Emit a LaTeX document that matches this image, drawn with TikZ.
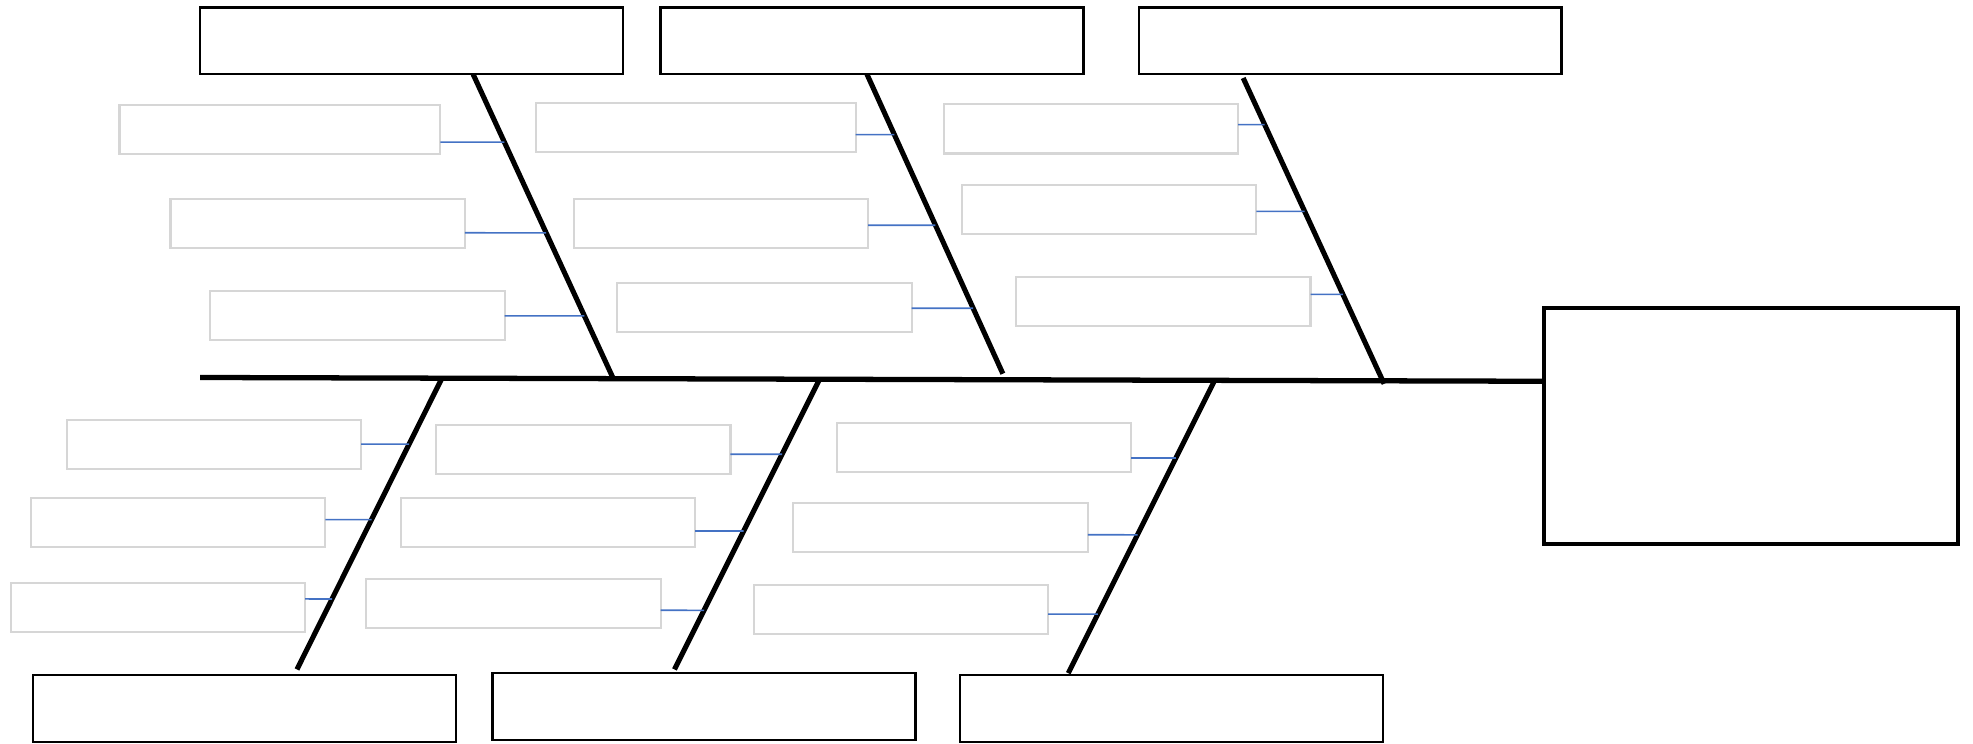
\documentclass[tikz,border=0pt]{standalone}
\usetikzlibrary{calc}
\newlength\pxu
\setlength\pxu{0.12583mm}
\definecolor{boxgray}{RGB}{214,214,214}
\definecolor{twigblue}{RGB}{68,114,196}

\begin{document}
\begin{tikzpicture}[x=\pxu, y=-\pxu,
  cause/.style={draw=black, line width=0.65pt, inner sep=0pt, outer sep=0pt,
    minimum width=336\pxu, minimum height=53\pxu},
  effectbox/.style={draw=black, line width=1.1pt, inner sep=0pt, outer sep=0pt,
    minimum width=329\pxu, minimum height=187\pxu},
  subcause/.style={draw=boxgray, line width=0.6pt, inner sep=0pt, outer sep=0pt,
    minimum width=234\pxu, minimum height=39\pxu},
  bone/.style={line width=1.45pt},
  spine/.style={line width=1.5pt},
  twig/.style={draw=twigblue, line width=0.45pt}]
  \useasboundingbox (0,0) rectangle (1568,591);

  % main categories
  \node[cause] (c1) at (327,32.5) {};
  \node[cause] (c2) at (693,32.5) {};
  \node[cause] (c3) at (1073,32.5) {};
  \node[cause] (c4) at (194.5,563) {};
  \node[cause] (c5) at (559.5,561.5) {};
  \node[cause] (c6) at (931,563) {};
  \node[effectbox] (effect) at (1391.5,338.5) {};

  % spine
  \coordinate (tail) at (159,300);
  \draw[spine] (tail) -- (effect.west |- 0,303);

  % bones
  \coordinate (b1a) at (c1.south -| 376,0);
  \coordinate (b1b) at (487,300);
  \coordinate (b2a) at (c2.south -| 689,0);
  \coordinate (b2b) at (797,297);
  \coordinate (b3a) at (988,62);
  \coordinate (b3b) at (1100,305);
  \coordinate (b4a) at (351,301);
  \coordinate (b4b) at (236,532);
  \coordinate (b5a) at (651,302);
  \coordinate (b5b) at (536,532);
  \coordinate (b6a) at (965,303);
  \coordinate (b6b) at (849,535);
  \draw[bone] (b1a) -- (b1b);
  \draw[bone] (b2a) -- (b2b);
  \draw[bone] (b3a) -- (b3b);
  \draw[bone] (b4a) -- (b4b);
  \draw[bone] (b5a) -- (b5b);
  \draw[bone] (b6a) -- (b6b);

  % sub causes, upper half
  \node[subcause, minimum width=255\pxu] (g1) at (222.5,103) {};
  \node[subcause] (g2) at (252.5,177.5) {};
  \node[subcause] (g3) at (284,250.5) {};
  \node[subcause, minimum width=254\pxu] (g4) at (553,101) {};
  \node[subcause] (g5) at (573,177.5) {};
  \node[subcause] (g6) at (607.5,244.5) {};
  \node[subcause] (g7) at (867,102.5) {};
  \node[subcause] (g8) at (881.5,166.5) {};
  \node[subcause] (g9) at (924.5,239.5) {};

  % sub causes, lower half
  \node[subcause] (g10) at (170,353.5) {};
  \node[subcause] (g11) at (141.5,415.5) {};
  \node[subcause] (g12) at (125.5,482.5) {};
  \node[subcause] (g13) at (463.5,357.5) {};
  \node[subcause] (g14) at (435.5,415.5) {};
  \node[subcause] (g15) at (408,479.5) {};
  \node[subcause] (g16) at (782,355.5) {};
  \node[subcause] (g17) at (747.5,419.5) {};
  \node[subcause] (g18) at (716,484.5) {};

  % twigs to the bones
  \draw[twig] (g1.east |- 0,113) -- (intersection of b1a--b1b and 0,113--1,113);
  \draw[twig] (g2.east |- 0,185) -- (intersection of b1a--b1b and 0,185--1,185);
  \draw[twig] (g3.east |- 0,251) -- (intersection of b1a--b1b and 0,251--1,251);
  \draw[twig] (g4.east |- 0,107) -- (intersection of b2a--b2b and 0,107--1,107);
  \draw[twig] (g5.east |- 0,179) -- (intersection of b2a--b2b and 0,179--1,179);
  \draw[twig] (g6.east |- 0,245) -- (intersection of b2a--b2b and 0,245--1,245);
  \draw[twig] (g7.east |- 0,99) -- (intersection of b3a--b3b and 0,99--1,99);
  \draw[twig] (g8.east |- 0,168) -- (intersection of b3a--b3b and 0,168--1,168);
  \draw[twig] (g9.east |- 0,234) -- (intersection of b3a--b3b and 0,234--1,234);
  \draw[twig] (g10.east |- 0,353) -- (intersection of b4a--b4b and 0,353--1,353);
  \draw[twig] (g11.east |- 0,413) -- (intersection of b4a--b4b and 0,413--1,413);
  \draw[twig] (g12.east |- 0,476) -- (intersection of b4a--b4b and 0,476--1,476);
  \draw[twig] (g13.east |- 0,361) -- (intersection of b5a--b5b and 0,361--1,361);
  \draw[twig] (g14.east |- 0,422) -- (intersection of b5a--b5b and 0,422--1,422);
  \draw[twig] (g15.east |- 0,485) -- (intersection of b5a--b5b and 0,485--1,485);
  \draw[twig] (g16.east |- 0,364) -- (intersection of b6a--b6b and 0,364--1,364);
  \draw[twig] (g17.east |- 0,425) -- (intersection of b6a--b6b and 0,425--1,425);
  \draw[twig] (g18.east |- 0,488) -- (intersection of b6a--b6b and 0,488--1,488);
\end{tikzpicture}
\end{document}
